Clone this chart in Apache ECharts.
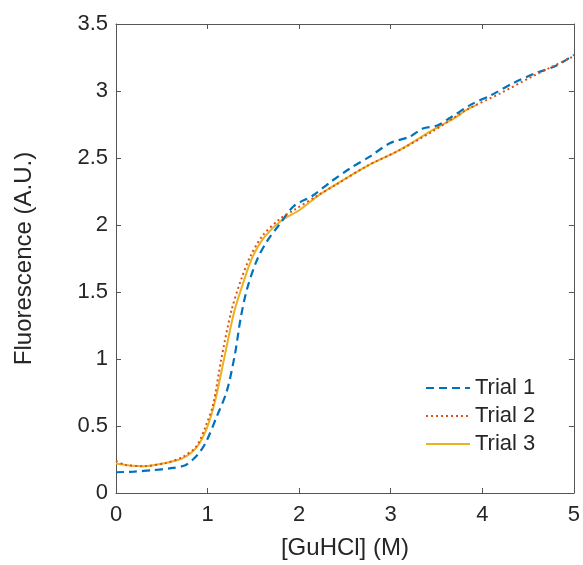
<!DOCTYPE html>
<html><head><meta charset="utf-8">
<script src="https://cdn.jsdelivr.net/npm/echarts@6/dist/echarts.min.js"></script>
<style>html,body{margin:0;padding:0;background:#fff}#c{width:583px;height:565px}</style>
</head><body><div id="c"></div>
<script>
var trialNames = ['Trial 1', 'Trial 2', 'Trial 3'];
var trial1 = [[0,0.155],[0.2,0.16],[0.4,0.17],[0.6,0.185],[0.75,0.205],[0.84,0.25],[0.92,0.31],[0.99,0.39],[1.1,0.57],[1.21,0.76],[1.3,1.04],[1.36,1.3],[1.43,1.52],[1.54,1.74],[1.65,1.88],[1.78,2.0],[1.94,2.14],[2.15,2.22],[2.34,2.32],[2.55,2.42],[2.77,2.51],[2.99,2.61],[3.21,2.66],[3.35,2.72],[3.5,2.74],[3.65,2.8],[3.88,2.9],[4.1,2.97],[4.34,3.06],[4.57,3.13],[4.81,3.19],[5.0,3.27]];
var trial2 = [[0,0.24],[0.1,0.21],[0.3,0.2],[0.55,0.225],[0.73,0.27],[0.88,0.35],[0.98,0.5],[1.06,0.66],[1.15,1.0],[1.26,1.36],[1.37,1.6],[1.47,1.77],[1.6,1.92],[1.78,2.04],[1.94,2.11],[2.2,2.22],[2.4,2.3],[2.74,2.44],[3.1,2.56],[3.46,2.7],[3.83,2.86],[4.19,2.98],[4.55,3.11],[5.0,3.26]];
var trial3 = [[0,0.22],[0.15,0.205],[0.3,0.2],[0.55,0.226],[0.73,0.26],[0.88,0.34],[0.99,0.48],[1.08,0.68],[1.18,1.0],[1.29,1.35],[1.39,1.57],[1.49,1.76],[1.62,1.91],[1.8,2.03],[2.0,2.11],[2.19,2.21],[2.37,2.29],[2.74,2.44],[3.1,2.56],[3.46,2.71],[3.7,2.8],[3.83,2.86],[3.95,2.9]];
var xTicks = [0,1,2,3,4,5];
var yTicks = [0,0.5,1,1.5,2,2.5,3,3.5];

var FONT = 'Liberation Sans, Arial, Helvetica, sans-serif';
var AX = '#555555';
var TXT = '#262626';
var chart = echarts.init(document.getElementById('c'), null, {renderer:'canvas'});
function xAx(pos, showLabel){
  return {type:'value', position:pos, min:xTicks[0], max:xTicks[xTicks.length-1], interval:1,
    axisLine:{show:true, onZero:false, lineStyle:{color:AX, width:1}},
    axisTick:{show:true, inside:true, length:5, lineStyle:{color:AX}},
    axisLabel:{show:showLabel, color:TXT, fontSize:22, fontFamily:FONT, margin:11},
    splitLine:{show:false},
    name: showLabel ? '[GuHCl] (M)' : '', nameLocation:'middle', nameGap:43,
    nameTextStyle:{color:TXT, fontSize:24, fontFamily:FONT}};
}
function yAx(pos, showLabel){
  return {type:'value', position:pos, min:yTicks[0], max:yTicks[yTicks.length-1], interval:0.5,
    axisLine:{show:true, onZero:false, lineStyle:{color:AX, width:1}},
    axisTick:{show:true, inside:true, length:5, lineStyle:{color:AX}},
    axisLabel:{show:showLabel, color:TXT, fontSize:22, fontFamily:FONT, margin:8},
    splitLine:{show:false},
    name: showLabel ? 'Fluorescence (A.U.)' : '', nameLocation:'middle', nameGap:80, nameRotate:90,
    nameTextStyle:{color:TXT, fontSize:24, fontFamily:FONT}};
}
var colors = ['#0072BD','#D95319','#EDB120'];
var styles = [{type:[8,5], width:2.2},{type:[2,3], width:2},{type:'solid', width:2}];
var datas = [trial1, trial2, trial3];
var series = trialNames.map(function(n,i){
  return {name:n, type:'line', data:datas[i], showSymbol:false, symbol:'none', smooth:0.3,
    xAxisIndex:0, yAxisIndex:0, z: i===1 ? 4 : (i===0 ? 3 : 2),
    lineStyle:{color:colors[i], width:styles[i].width, type:styles[i].type},
    itemStyle:{color:colors[i]}};
});
chart.setOption({
  animation:false,
  backgroundColor:'#fff',
  grid:{left:116, right:9, top:24, bottom:72, containLabel:false},
  xAxis:[xAx('bottom', true), xAx('top', false)],
  yAxis:[yAx('left', true), yAx('right', false)],
  legend:{show:true, orient:'vertical', left:420, top:372, itemWidth:44, itemHeight:14, itemGap:6,
    itemStyle:{opacity:0},
    textStyle:{color:TXT, fontSize:22, fontFamily:FONT},
    data:trialNames.map(function(n){return {name:n};})},
  series:series
});
</script></body></html>
